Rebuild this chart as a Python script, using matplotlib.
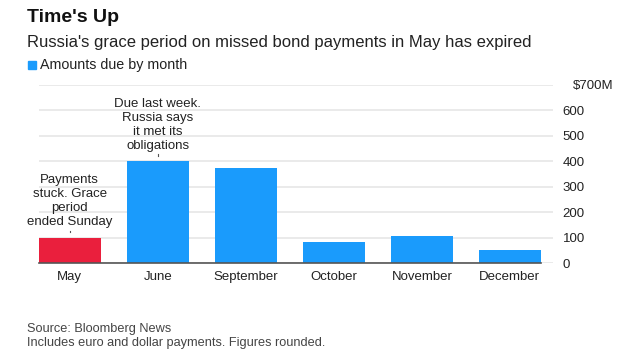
import matplotlib.pyplot as plt
from matplotlib import transforms

plt.rcParams['font.family'] = ['Liberation Sans', 'DejaVu Sans']

months = ['May', 'June', 'September', 'October', 'November', 'December']
amounts = [100, 400, 372, 83, 107, 52]  # $M
bar_colors = ['#ea1f3d', '#1a9bfc', '#1a9bfc', '#1a9bfc', '#1a9bfc', '#1a9bfc']
y_ticks = [0, 100, 200, 300, 400, 500, 600, 700]
y_labels = ['0', '100', '200', '300', '400', '500', '600', '$700M']
notes = {0: 'Payments\nstuck. Grace\nperiod\nended Sunday',
         1: 'Due last week.\nRussia says\nit met its\nobligations'}

fig = plt.figure(figsize=(6.24, 3.58), dpi=100)
W, H = 624, 358
ax = fig.add_axes([39 / W, 1 - 263 / H, (553 - 39) / W, (263 - 85) / H])

x = list(range(len(months)))
ax.bar(x, amounts, width=0.7, color=bar_colors, zorder=3)

ax.set_xlim(-0.35, 5.49)
ax.set_ylim(0, 700)
for t in y_ticks:
    ax.axhline(t, color='#e6e6e6', lw=1.2, zorder=1)
ax.plot([-0.35, 5.35], [0, 0], color='#555555', lw=1.2, zorder=4, clip_on=False)

ax.set_xticks(x)
ax.set_xticklabels(months, fontsize=9.5, color='#222222')
ax.yaxis.tick_right()
ax.set_yticks(y_ticks)
ax.set_yticklabels(y_labels, fontsize=9.5, color='#222222')
ax.tick_params(axis='both', length=0, pad=6)
ax.tick_params(axis='y', pad=7)
ylbls = ax.get_yticklabels()
for lbl in ylbls:
    lbl.set_horizontalalignment('left')
# top label sits a bit further right
ylbls[-1].set_transform(ylbls[-1].get_transform() +
                        transforms.ScaledTranslation(10 / 100, 0, fig.dpi_scale_trans))
for s in ax.spines.values():
    s.set_visible(False)

# annotations above the first two bars
for i, txt in notes.items():
    ax.plot([i, i], [amounts[i] + 20, amounts[i] + 27], color='#555555', lw=0.8, zorder=4)
    ax.text(i, amounts[i] + 38, txt, ha='center', va='bottom', fontsize=9.5,
            color='#222222', linespacing=1.22)

fig.text(27 / W, 1 - 17 / H, "Time's Up", fontsize=14, fontweight='bold', va='center', color='#111111')
fig.text(27 / W, 1 - 42 / H, "Russia's grace period on missed bond payments in May has expired",
         fontsize=12, va='center', color='#222222')
fig.patches.append(plt.Rectangle((28 / W, 1 - 69 / H), 8 / W, 8 / H, color='#1a9bfc',
                                 transform=fig.transFigure, figure=fig))
fig.text(40 / W, 1 - 65 / H, 'Amounts due by month', fontsize=10.3, va='center', color='#222222')

fig.text(27 / W, 1 - 329 / H, 'Source: Bloomberg News', fontsize=9.2, va='center', color='#444444')
fig.text(27 / W, 1 - 343 / H, 'Includes euro and dollar payments. Figures rounded.', fontsize=9.2,
         va='center', color='#444444')

fig.savefig('out.png', dpi=100)
